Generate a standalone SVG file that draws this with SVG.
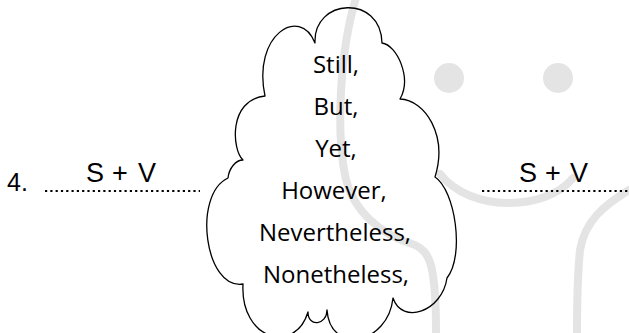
<svg xmlns="http://www.w3.org/2000/svg" width="629" height="333" viewBox="0 0 629 333">
<style>
.wm{fill:none;stroke:#e4e4e4;stroke-width:8;stroke-linecap:round}
.eye{fill:#e4e4e4}
.cloud{fill:none;stroke:#000;stroke-width:1.3;stroke-linejoin:round}
.dots{stroke:#000;stroke-width:2.2;stroke-dasharray:2.2 3.1}
.lbl{font-family:"Open Sans","Noto Sans",sans-serif;font-size:24px;fill:#000;text-anchor:middle}
.sv{font-family:"Liberation Sans",Arial,sans-serif;font-size:27px;fill:#000}
.num{font-family:"Liberation Sans",Arial,sans-serif;font-size:25px;fill:#000}
</style>
<rect width="629" height="333" fill="#fff"/>
<g id="watermark">
<path class="wm" d="M356,-2 C340,50 336,130 345,175 C352,210 380,235 415,245 C430,252 436,265 436,333"/>
<path class="wm" d="M440,174 C470,212 545,212 573,178"/>
<path class="wm" d="M629,190 C605,205 585,220 580,250 C577,280 577,310 577,333"/>
<circle class="eye" cx="449" cy="78" r="15"/>
<circle class="eye" cx="558" cy="78" r="15"/>
</g>
<g id="connectors">
<line class="dots" x1="45" y1="191" x2="200" y2="191"/>
<line class="dots" x1="482" y1="191" x2="629" y2="191"/>
</g>
<g id="num">
<text class="num" x="7" y="191">4.</text>
</g>
<g id="sv-left">
<text class="sv" y="182"><tspan x="86">S</tspan><tspan x="112">+</tspan><tspan x="138">V</tspan></text>
</g>
<g id="cloud">
<path class="cloud" d="M265,96 C252,35 300,5 315,43 C313,-2 381,-6 382,43 C397,45 412,78 400,99 C425,100 448,135 435,177 C455,190 465,255 447,278 C442,312 402,325 393,298 C388,345 330,355 327,310 C327,325 308,328 308,312 C295,355 240,340 243,284 C205,290 192,195 228,178 C229,168 236,160 243,160 C232,150 228,100 265,96 Z"/>
<text class="lbl" x="336" y="73">Still,</text>
<text class="lbl" x="336" y="115">But,</text>
<text class="lbl" x="336" y="157">Yet,</text>
<text class="lbl" x="334" y="199">However,</text>
<text class="lbl" x="335" y="241">Nevertheless,</text>
<text class="lbl" x="336" y="283">Nonetheless,</text>
</g>
<g id="sv-right">
<text class="sv" y="182"><tspan x="519">S</tspan><tspan x="545">+</tspan><tspan x="570">V</tspan></text>
</g>
</svg>
